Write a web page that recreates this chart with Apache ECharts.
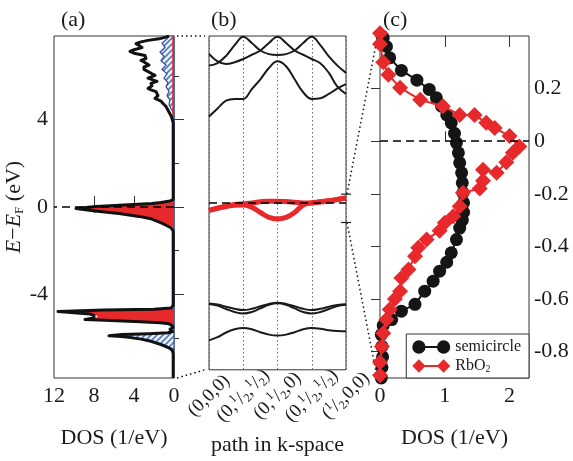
<!DOCTYPE html>
<html lang="en">
<head>
<meta charset="UTF-8">
<title>RbO2 DOS, bands and semicircle</title>
<script src="https://cdn.jsdelivr.net/npm/echarts@6/dist/echarts.min.js"></script>
<style>
    body { margin: 0; background: #fff; }
    #Chart1 { width: 573px; height: 461px; }
</style>
</head>
<body>
<div id="Chart1"></div>
<script>
// ---------- data (a): DOS, pairs are [E, DOS] ----------
const totalDos = [
    [-7.83,0.08],[-6.7,0.08],[-6.55,0.2],[-6.45,0.5],[-6.3,1.3],[-6.15,2.3],[-6.05,3.3],[-5.97,4.5],
    [-5.92,5.6],[-5.9,6.5],[-5.87,6.4],[-5.84,5.2],[-5.8,2.5],[-5.76,0.6],[-5.7,0.15],[-5.6,0.4],
    [-5.52,0.1],[-5.42,0.2],[-5.35,0.5],[-5.3,1.4],[-5.25,3.4],[-5.2,6.3],[-5.15,8.9],[-5.12,8.8],
    [-5.08,8.0],[-5.02,7.8],[-4.96,8.0],[-4.9,8.4],[-4.84,10.0],[-4.79,11.6],[-4.76,11.5],[-4.72,7],
    [-4.68,2],[-4.63,0.3],[-4.5,0.08],[-1.1,0.08],[-0.95,0.3],[-0.76,1.1],[-0.55,2.2],[-0.43,3.5],
    [-0.3,5.5],[-0.18,7.9],[-0.07,9.8],[-0.03,9.9],[0.02,7.8],[0.08,5.5],[0.16,2.2],[0.21,1.3],
    [0.28,0.4],[0.34,0.08],[3.85,0.08],[3.9,0.1],[4.13,0.25],[4.43,0.6],[4.6,0.8],[4.74,1.1],
    [4.85,1.3],[4.97,1.9],[5.1,1.6],[5.28,1.8],[5.36,2.3],[5.43,2.6],[5.55,2.2],[5.66,2.3],
    [5.75,1.7],[5.81,1.8],[5.9,2.6],[6.03,1.9],[6.1,2.2],[6.18,2.1],[6.3,3.0],[6.41,3.0],
    [6.5,2.5],[6.56,2.5],[6.64,3.0],[6.71,3.3],[6.8,2.8],[6.94,2.9],[7.04,4.0],[7.13,4.4],
    [7.2,4.0],[7.3,3.2],[7.4,3.5],[7.48,3.8],[7.56,3.3],[7.63,2.6],[7.7,1.5],[7.78,0.8],[7.83,0.5]
];
const redDos = [
    [-7.83,0],[-7.83,0.12],[-6.6,0.1],[-6.5,0],[-5.45,0],[-5.35,0.2],[-5.3,1.0],[-5.25,3.0],
    [-5.2,6.0],[-5.14,8.6],[-5.1,8.0],[-5.03,7.6],[-4.96,7.8],[-4.9,8.2],[-4.84,9.8],[-4.78,11.4],
    [-4.74,10],[-4.7,4],[-4.66,1],[-4.62,0],[-1.05,0],[-0.91,0.17],[-0.73,1.0],[-0.53,2.0],
    [-0.43,3.3],[-0.3,5.3],[-0.18,7.7],[-0.06,9.6],[-0.03,9.5],[0.02,7.5],[0.08,5.3],[0.16,2.0],
    [0.2,1.2],[0.28,0.3],[0.33,0],[3.9,0],[4.0,0.18],[7.83,0.18],[7.83,0]
];
const blueDos = [
    [-6.6,0],[-6.48,0.2],[-6.3,1.0],[-6.15,2.0],[-6.05,3.0],[-5.97,4.2],[-5.9,5.1],[-5.86,5.0],
    [-5.82,3.0],[-5.77,0.5],[-5.72,0],[4.3,0],[4.5,0.3],[4.7,0.5],[4.9,0.4],[5.1,0.7],[5.3,0.5],
    [5.5,0.8],[5.7,0.6],[5.9,1.0],[6.1,0.7],[6.3,1.2],[6.5,0.8],[6.7,1.3],[6.9,1.0],[7.1,1.4],
    [7.3,0.9],[7.5,1.2],[7.7,0.7],[7.83,0.5],[7.83,0]
];

// ---------- data (b): bands along the k path ----------
const kPath = [0,0.25,0.5,0.75,1,1.25,1.5,1.75,2,2.25,2.5,2.75,3,3.25,3.5,3.75,4];
const kLabels = ['(0,0,0)', '(0,{p|1}/{q|2},{p|1}/{q|2})', '(0,{p|1}/{q|2},0)',
                 '(0,{p|1}/{q|2},{p|1}/{q|2})', '({p|1}/{q|2},0,0)'];
const bandTop  = [6.44,6.56,6.9,7.4,7.8,7.5,7.15,6.98,6.94,6.98,7.15,7.5,7.8,7.4,6.87,6.44,6.1];
const bandMid  = [6.99,6.64,6.52,6.6,6.75,6.95,7.15,7.5,7.8,7.5,7.15,6.95,6.75,6.55,6.1,5.45,5.11];
const bandLow  = [4.05,4.43,4.8,4.88,4.88,5.34,5.8,6.33,6.64,6.41,5.8,5.19,4.88,4.91,5.11,5.37,5.57];
const redUp    = [-0.35,-0.25,-0.15,-0.08,-0.04,0.0,0.05,0.08,0.08,0.06,0.03,0.0,0.0,0.05,0.1,0.16,0.23];
const redDown  = [-0.35,-0.25,-0.17,-0.11,-0.1,-0.2,-0.45,-0.68,-0.75,-0.68,-0.45,-0.1,0.0,0.05,0.1,0.16,0.23];
const pairA    = [-4.72,-4.77,-4.87,-4.97,-5.03,-4.97,-4.85,-4.74,-4.69,-4.74,-4.85,-4.97,-5.03,-4.97,-4.87,-4.79,-4.76];
const pairB    = [-4.74,-4.82,-4.98,-5.12,-5.19,-5.12,-4.95,-4.78,-4.71,-4.78,-4.95,-5.12,-5.19,-5.12,-4.98,-4.84,-4.78];
const bandDeep = [-6.45,-6.3,-6.08,-5.93,-5.87,-5.93,-6.07,-6.18,-6.22,-6.18,-6.07,-5.93,-5.87,-5.9,-5.97,-6.01,-6.02];

// ---------- data (c): [DOS, E] ----------
const semicircle = [
    [0.03,0.40],[0.05,0.393],[0.10,0.36],[0.15,0.317],[0.33,0.269],[0.57,0.232],[0.76,0.197],[0.87,0.165],
    [0.95,0.133],[1.03,0.10],[1.10,0.07],[1.15,0.03],[1.18,-0.006],[1.21,-0.044],[1.23,-0.082],[1.26,-0.12],
    [1.27,-0.158],[1.28,-0.196],[1.29,-0.234],[1.29,-0.27],[1.27,-0.30],[1.23,-0.33],[1.18,-0.374],[1.10,-0.424],
    [1.03,-0.46],[0.92,-0.494],[0.82,-0.532],[0.69,-0.57],[0.54,-0.62],[0.33,-0.646],[0.18,-0.678],[0.05,-0.70],
    [0.02,-0.735],[0.03,-0.78],[0.04,-0.82],[0.03,-0.86],[0.02,-0.9]
];
const rbo2 = [
    [0,0.41],[0,0.37],[0.05,0.30],[0.13,0.253],[0.31,0.203],[0.62,0.158],[0.97,0.133],[1.23,0.10],
    [1.46,0.10],[1.64,0.07],[1.77,0.05],[2.0,0.02],[2.15,-0.02],[2.05,-0.044],[1.95,-0.08],[1.80,-0.12],
    [1.59,-0.108],[1.59,-0.15],[1.54,-0.18],[1.28,-0.196],[1.23,-0.247],[1.13,-0.285],[1.0,-0.31],[0.92,-0.34],
    [0.72,-0.374],[0.59,-0.405],[0.54,-0.437],[0.44,-0.488],[0.33,-0.52],[0.31,-0.57],[0.23,-0.60],[0.15,-0.64],
    [0.10,-0.678],[0.05,-0.73],[0.03,-0.78],[0,-0.84],[0,-0.89]
];

const eMin = -7.83, eMax = 7.83;
const zoomTop = 0.41, zoomBottom = -0.92;

const FONT = 'Liberation Serif';
const INK = '#1a1a1a';
const RED = '#e8292b';

// hatch pattern for the blue DOS
const hatch = document.createElement('canvas');
hatch.width = 6; hatch.height = 6;
const hc = hatch.getContext('2d');
hc.fillStyle = '#eef2fa'; hc.fillRect(0, 0, 6, 6);
hc.strokeStyle = '#5a78b8'; hc.lineWidth = 1.6;
hc.beginPath();
hc.moveTo(0, 6); hc.lineTo(6, 0);
hc.moveTo(-1, 1); hc.lineTo(1, -1);
hc.moveTo(5, 7); hc.lineTo(7, 5);
hc.stroke();

function fillArea(points, style) {
    return {
        type: 'custom',
        xAxisIndex: 0, yAxisIndex: 0,
        silent: true,
        data: points.map(p => [p[1], p[0]]),
        encode: { x: 0, y: 1 },
        renderItem: function (params, api) {
            if (params.dataIndex !== 0) return null;
            const pts = points.map(p => api.coord([p[1], p[0]]));
            return { type: 'polygon', shape: { points: pts }, style: style };
        }
    };
}

function band(values, color, width) {
    return {
        type: 'line', xAxisIndex: 2, yAxisIndex: 2,
        data: kPath.map((k, i) => [k, values[i]]),
        smooth: 0.4, symbol: 'none', silent: true,
        lineStyle: { color: color, width: width },
        z: color === RED ? 4 : 3
    };
}

const zeroLine = {
    silent: true, symbol: 'none', label: { show: false },
    lineStyle: { color: '#000', type: [8, 5], width: 1.5 },
    data: [{ yAxis: 0 }]
};

const tickFont = { fontFamily: FONT, fontSize: 22, color: INK };
const nameFont = { fontFamily: FONT, fontSize: 22, color: INK };

const myChart1 = echarts.init(document.getElementById('Chart1'));

const option = {
    animation: false,
    backgroundColor: '#fff',
    title: [
        { text: '(a)', left: 56, top: 4, textStyle: { fontFamily: FONT, fontSize: 22, fontWeight: 'normal', color: INK } },
        { text: '(b)', left: 206, top: 4, textStyle: { fontFamily: FONT, fontSize: 22, fontWeight: 'normal', color: INK } },
        { text: '(c)', left: 378, top: 4, textStyle: { fontFamily: FONT, fontSize: 22, fontWeight: 'normal', color: INK } }
    ],
    grid: [
        { left: 54, top: 36, width: 120, height: 342, show: true, borderColor: '#333', borderWidth: 1, backgroundColor: 'transparent' },
        { left: 209, top: 36, width: 137, height: 342, show: true, borderColor: '#333', borderWidth: 1, backgroundColor: 'transparent' },
        { left: 380, top: 36, width: 149, height: 342, show: true, borderColor: '#333', borderWidth: 1, backgroundColor: 'transparent' }
    ],
    xAxis: [
        {   // (a) bottom
            gridIndex: 0, type: 'value', inverse: true, min: 0, max: 12, position: 'bottom',
            axisLine: { show: false }, splitLine: { show: false },
            axisTick: { inside: true, length: 11, customValues: [4, 8], lineStyle: { color: '#333' } },
            axisLabel: Object.assign({ customValues: [0, 4, 8, 12], margin: 7 }, tickFont),
            name: 'DOS (1/eV)', nameLocation: 'middle', nameGap: 49, nameTextStyle: nameFont
        },
        {   // (a) top
            gridIndex: 0, type: 'value', inverse: true, min: 0, max: 12, position: 'top',
            axisLine: { show: false }, splitLine: { show: false }, axisLabel: { show: false },
            axisTick: { inside: true, length: 6, customValues: [4, 8], lineStyle: { color: '#333' } }
        },
        {   // (b)
            gridIndex: 1, type: 'value', min: 0, max: 4, interval: 1,
            axisLine: { show: false }, axisTick: { show: false },
            splitLine: { show: true, lineStyle: { color: '#666', type: [1.5, 2.5], width: 1 } },
            axisLabel: {
                customValues: [0, 1, 2, 3, 4],
                formatter: v => kLabels[Math.round(v)],
                rotate: 45, align: 'center', verticalAlign: 'middle', margin: 26,
                fontFamily: FONT, fontSize: 19, color: INK, lineHeight: 22,
                rich: {
                    p: { fontFamily: FONT, fontSize: 12, color: INK, verticalAlign: 'top', lineHeight: 12 },
                    q: { fontFamily: FONT, fontSize: 12, color: INK, verticalAlign: 'bottom', lineHeight: 12 }
                }
            },
            name: 'path in k-space', nameLocation: 'middle', nameGap: 49, nameTextStyle: nameFont
        },
        {   // (c) bottom
            gridIndex: 2, type: 'value', min: 0, max: 2.3, position: 'bottom',
            axisLine: { show: false }, splitLine: { show: false },
            axisTick: { inside: true, length: 10, customValues: [1, 2], lineStyle: { color: '#333' } },
            axisLabel: Object.assign({ customValues: [0, 1, 2], margin: 7 }, tickFont),
            name: 'DOS (1/eV)', nameLocation: 'middle', nameGap: 49, nameTextStyle: nameFont
        },
        {   // (c) top
            gridIndex: 2, type: 'value', min: 0, max: 2.3, position: 'top',
            axisLine: { show: false }, splitLine: { show: false }, axisLabel: { show: false },
            axisTick: { inside: true, length: 11, customValues: [1, 2], lineStyle: { color: '#333' } }
        }
    ],
    yAxis: [
        {   // (a) major
            gridIndex: 0, type: 'value', min: eMin, max: eMax, position: 'left',
            axisLine: { show: false }, splitLine: { show: false },
            axisTick: { inside: true, length: 10, customValues: [-4, 0, 4], lineStyle: { color: '#333' } },
            axisLabel: Object.assign({ customValues: [-4, 0, 4], margin: 6 }, tickFont),
            name: '{i|E}\u2212{i|E}{s|F} (eV)', nameLocation: 'middle', nameRotate: 90, nameGap: 28,
            nameTextStyle: {
                fontFamily: FONT, fontSize: 22, color: INK, lineHeight: 24,
                rich: {
                    i: { fontFamily: FONT, fontSize: 22, fontStyle: 'italic', color: INK },
                    s: { fontFamily: FONT, fontSize: 13, color: INK, verticalAlign: 'bottom', lineHeight: 14 }
                }
            }
        },
        {   // (a) minor
            gridIndex: 0, type: 'value', min: eMin, max: eMax, position: 'left',
            axisLine: { show: false }, splitLine: { show: false }, axisLabel: { show: false },
            axisTick: { inside: true, length: 5, customValues: [-6, -2, 2, 6], lineStyle: { color: '#333' } }
        },
        {   // (b)
            gridIndex: 1, type: 'value', min: eMin, max: eMax, show: false
        },
        {   // (c)
            gridIndex: 2, type: 'value', min: -0.9, max: 0.4, position: 'right',
            axisLine: { show: false }, splitLine: { show: false },
            axisTick: { inside: true, length: 9, customValues: [-0.8, -0.6, -0.4, -0.2, 0, 0.2], lineStyle: { color: '#333' } },
            axisLabel: Object.assign({ customValues: [-0.8, -0.6, -0.4, -0.2, 0, 0.2], margin: 5 }, tickFont)
        }
    ],
    legend: {
        orient: 'vertical', right: 44, bottom: 83,
        backgroundColor: '#fff', borderColor: '#333', borderWidth: 1,
        padding: [5, 8, 4, 6], itemGap: 3, itemWidth: 38, itemHeight: 14,
        selectedMode: false,
        textStyle: {
            fontFamily: FONT, fontSize: 16, color: INK,
            rich: { s: { fontFamily: FONT, fontSize: 10, color: INK, verticalAlign: 'bottom', lineHeight: 10 } }
        },
        formatter: name => name === 'RbO2' ? 'RbO{s|2}' : name,
        data: [
            { name: 'semicircle', icon: 'path://M7,0A7,7,0,1,1,7,14A7,7,0,1,1,7,0ZM12,6L28,6L28,8L12,8ZM33,0A7,7,0,1,1,33,14A7,7,0,1,1,33,0Z' },
            { name: 'RbO2', icon: 'path://M0,7L7,0L14,7L7,14ZM12,6L28,6L28,8L12,8ZM26,7L33,0L40,7L33,14Z' }
        ]
    },
    series: [
        fillArea(blueDos, { fill: { image: hatch, repeat: 'repeat' }, stroke: '#2e4f9e', lineWidth: 1.2 }),
        fillArea(redDos, { fill: RED, stroke: null }),
        {
            type: 'line', xAxisIndex: 0, yAxisIndex: 0, silent: true,
            data: totalDos.map(p => [p[1], p[0]]),
            symbol: 'none', z: 3,
            lineStyle: { color: '#111', width: 3, join: 'round' },
            markLine: zeroLine
        },
        band(bandTop, '#1a1a1a', 2),
        band(bandMid, '#1a1a1a', 2),
        band(bandLow, '#1a1a1a', 2),
        band(pairA, '#1a1a1a', 2),
        band(pairB, '#1a1a1a', 2),
        band(bandDeep, '#1a1a1a', 2),
        band(redDown, RED, 5),
        band(redUp, RED, 5),
        {
            type: 'line', xAxisIndex: 2, yAxisIndex: 2, data: [], z: 5, silent: true,
            markLine: zeroLine
        },
        {
            type: 'line', xAxisIndex: 3, yAxisIndex: 3, data: [], z: 1, silent: true,
            markLine: zeroLine
        },
        {
            name: 'semicircle', type: 'line', xAxisIndex: 3, yAxisIndex: 3, clip: false,
            data: semicircle, symbol: 'circle', symbolSize: 13, z: 3,
            itemStyle: { color: '#151515' }, lineStyle: { color: '#151515', width: 2 }
        },
        {
            name: 'RbO2', type: 'line', xAxisIndex: 3, yAxisIndex: 3, clip: false,
            data: rbo2, symbol: 'diamond', symbolSize: 16, z: 4,
            itemStyle: { color: RED }, lineStyle: { color: RED, width: 2 }
        }
    ]
};

myChart1.setOption(option);

// connectors between panels, placed through the axes
function px(xi, yi, v) {
    return myChart1.convertToPixel({ xAxisIndex: xi, yAxisIndex: yi }, v);
}
const dotted = { stroke: '#111', lineWidth: 1.5, lineDash: [1.5, 3] };
const aT = px(0, 0, [0, eMax]), aB = px(0, 0, [0, eMin]);
const bT = px(2, 2, [0, eMax]), bB = px(2, 2, [0, eMin]);
const zT = px(2, 2, [4, zoomTop]), zB = px(2, 2, [4, zoomBottom]);
const cT = px(3, 3, [0, 0.4]), cB = px(3, 3, [0, -0.9]);

myChart1.setOption({
    graphic: [
        { type: 'line', silent: true, shape: { x1: aT[0] + 3, y1: aT[1], x2: bT[0] - 4, y2: bT[1] }, style: dotted },
        { type: 'line', silent: true, shape: { x1: aB[0] + 3, y1: aB[1], x2: bB[0] - 4, y2: bB[1] }, style: dotted },
        { type: 'line', silent: true, shape: { x1: zT[0] + 1, y1: zT[1], x2: cT[0] - 3, y2: cT[1] + 3 }, style: dotted },
        { type: 'line', silent: true, shape: { x1: zB[0] + 1, y1: zB[1], x2: cB[0] - 3, y2: cB[1] - 1 }, style: dotted },
        { type: 'line', silent: true, shape: { x1: zT[0] - 5, y1: zT[1], x2: zT[0] + 5, y2: zT[1] }, style: { stroke: '#222', lineWidth: 1.2 } },
        { type: 'line', silent: true, shape: { x1: zB[0] - 5, y1: zB[1], x2: zB[0] + 5, y2: zB[1] }, style: { stroke: '#222', lineWidth: 1.2 } }
    ]
});
</script>
</body>
</html>
